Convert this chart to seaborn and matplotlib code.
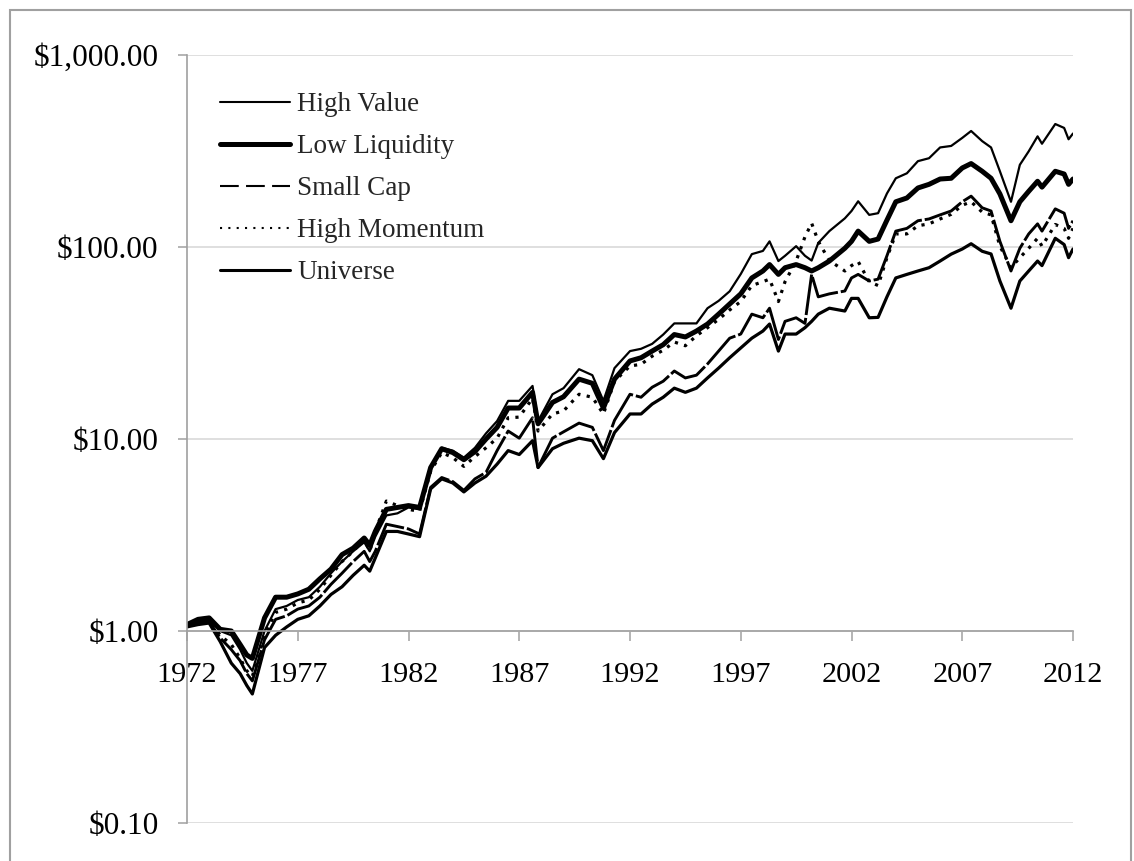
import matplotlib
matplotlib.use("Agg")
import matplotlib.pyplot as plt
from matplotlib.lines import Line2D
from matplotlib.patches import Rectangle
from matplotlib.ticker import FixedLocator, FuncFormatter, NullLocator
import seaborn as sns

# ---------------- data ----------------
years = [1972.0, 1972.5, 1973.0, 1973.5, 1974.0, 1974.4, 1974.7, 1974.95, 1975.5, 1976.0,
         1976.5, 1977.0, 1977.5, 1978.0, 1978.5, 1979.0, 1979.5, 1980.0, 1980.25, 1980.5,
         1981.0, 1981.5, 1982.0, 1982.5, 1983.0, 1983.5, 1984.0, 1984.5, 1985.0, 1985.5,
         1986.0, 1986.5, 1987.0, 1987.6, 1987.85, 1988.5, 1989.0, 1989.7, 1990.3, 1990.8,
         1991.3, 1992.0, 1992.5, 1993.0, 1993.5, 1994.0, 1994.5, 1995.0, 1995.5, 1996.0,
         1996.5, 1997.0, 1997.5, 1998.0, 1998.3, 1998.7, 1999.0, 1999.5, 1999.9, 2000.2,
         2000.5, 2001.0, 2001.7, 2002.0, 2002.3, 2002.8, 2003.2, 2003.6, 2004.0, 2004.5,
         2005.0, 2005.5, 2006.0, 2006.5, 2007.0, 2007.4, 2007.9, 2008.3, 2008.7, 2009.2,
         2009.6, 2010.0, 2010.4, 2010.6, 2011.2, 2011.6, 2011.8, 2012.0]

high_value = [1.08, 1.12, 1.15, 1.0, 0.95, 0.8, 0.68, 0.62, 1.0, 1.3,
              1.35, 1.45, 1.5, 1.7, 2.0, 2.3, 2.6, 2.9, 2.6, 3.1,
              4.0, 4.1, 4.4, 4.3, 7.0, 9.0, 8.7, 8.0, 9.0, 10.7,
              12.4, 15.8, 15.8, 18.9, 12.4, 17.1, 18.4, 23.1, 21.5, 15.8,
              23.4, 28.7, 29.5, 31.3, 35, 40, 40, 40, 48, 52.4,
              58.8, 72.3, 91.8, 95.4, 107, 84.5, 90, 101, 90, 85,
              105, 121, 141, 154, 173, 147, 150, 190, 228, 242,
              280, 290, 330, 336, 370, 402, 356, 330, 248, 172,
              268, 315, 377, 345, 437, 417, 364, 390]

low_liquidity = [1.08, 1.15, 1.17, 1.02, 1.0, 0.85, 0.75, 0.72, 1.17, 1.5,
                 1.5, 1.56, 1.65, 1.87, 2.1, 2.5, 2.7, 3.05, 2.8, 3.3,
                 4.3, 4.4, 4.5, 4.4, 7.1, 8.9, 8.5, 7.8, 8.6, 10.0,
                 11.5, 14.5, 14.5, 17.5, 12.0, 15.5, 16.6, 20.5, 19.5, 14.5,
                 20.5, 25.5, 26.5, 28.7, 31, 35, 34, 36.5, 39.7, 44.7,
                 50.5, 57, 69, 75, 81, 72, 78, 81, 78, 75,
                 78, 84.5, 98.5, 107, 121, 107, 110, 138, 172, 180,
                 203, 212, 226, 228, 258, 272, 248, 228, 189, 137,
                 172, 195, 220, 205, 248, 240, 212, 226]

small_cap = [1.06, 1.1, 1.12, 0.92, 0.8, 0.7, 0.6, 0.55, 0.9, 1.15,
             1.2, 1.3, 1.35, 1.5, 1.75, 2.0, 2.3, 2.6, 2.3, 2.6,
             3.6, 3.5, 3.4, 3.2, 5.6, 6.3, 6.0, 5.4, 6.2, 6.7,
             8.7, 11.0, 10.1, 12.9, 7.1, 10.1, 10.9, 12.1, 11.5, 8.7,
             12.5, 17.1, 16.5, 18.6, 20, 22.6, 20.8, 21.5, 24.6, 28.7,
             33.5, 35.2, 44.7, 42.8, 48, 33, 41, 42.8, 40, 72,
             55, 57, 59, 69, 72, 66.5, 68, 90, 121, 125,
             137, 140, 147, 154, 172, 184, 160, 154, 107, 75,
             98.5, 117, 132, 121, 158, 150, 125, 137]

high_momentum = [1.07, 1.12, 1.15, 0.95, 0.85, 0.72, 0.62, 0.58, 0.95, 1.25,
                 1.3, 1.4, 1.45, 1.65, 1.95, 2.3, 2.6, 3.0, 2.6, 3.3,
                 4.75, 4.5, 4.3, 4.2, 6.8, 8.5, 8.0, 7.2, 8.1, 9.0,
                 10.1, 12.9, 13, 16.3, 11, 13.5, 14, 17.1, 16.5, 13.5,
                 20, 24, 24.5, 27, 29, 32, 30.6, 34.5, 38, 42,
                 47, 52, 63, 66, 68, 52, 66, 84.5, 113, 133,
                 107, 85, 75, 80, 84, 66, 63, 88, 117, 117,
                 129, 132, 140, 148, 165, 172, 152, 147, 101, 78,
                 88, 98.5, 111, 101, 131, 125, 111, 125]

universe = [1.05, 1.08, 1.1, 0.88, 0.68, 0.6, 0.52, 0.47, 0.82, 0.95,
            1.05, 1.15, 1.2, 1.35, 1.55, 1.7, 1.95, 2.2, 2.05, 2.4,
            3.3, 3.3, 3.2, 3.1, 5.5, 6.2, 5.9, 5.3, 5.9, 6.4,
            7.4, 8.7, 8.3, 9.8, 7.1, 8.9, 9.5, 10.1, 9.8, 7.9,
            10.8, 13.5, 13.5, 15.2, 16.5, 18.4, 17.5, 18.4, 20.8, 23.4,
            26.5, 29.8, 33.5, 36.5, 39.7, 28.7, 35.2, 35.2, 38, 41,
            44.7, 48, 46.4, 54, 54, 42.8, 43, 55, 69, 72,
            75, 78, 84.5, 91.8, 97.6, 104, 95, 92, 66.5, 48,
            66.5, 75, 84.5, 80, 111, 103, 88, 97.6]

series_names = ["High Value", "Low Liquidity", "Small Cap", "High Momentum", "Universe"]
x_ticks = [1972, 1977, 1982, 1987, 1992, 1997, 2002, 2007, 2012]
y_ticks = [0.1, 1, 10, 100, 1000]

# ---------------- styling ----------------
sns.set_style("white")
plt.rcParams["font.family"] = ["Liberation Serif", "DejaVu Serif"]

W, H = 1134, 861
fig = plt.figure(figsize=(W / 100, H / 100), dpi=100)
ax = fig.add_axes([187 / W, 1 - 823 / H, (1073 - 187) / W, (823 - 55) / H])

data_values = [high_value, low_liquidity, small_cap, high_momentum, universe]
styles = [
    dict(lw=1.6, ls="-"),
    dict(lw=3.6, ls="-"),
    dict(lw=2.1, ls=(0, (14, 1))),
    dict(lw=2.3, ls=(0, (1, 2))),
    dict(lw=2.3, ls="-"),
]
for vals, st in zip(data_values, styles):
    sns.lineplot(x=years, y=vals, ax=ax, color="black", linewidth=st["lw"],
                 linestyle=st["ls"], estimator=None, sort=False, legend=False)

ax.set_yscale("log")
ax.set_ylim(0.1, 1000)
ax.set_xlim(1972, 2012)

gray = "#A0A0A0"
ax.yaxis.set_major_locator(FixedLocator(y_ticks))
ax.yaxis.set_minor_locator(NullLocator())
ax.yaxis.set_major_formatter(FuncFormatter(lambda v, p: "${:,.2f}".format(v)))
ax.xaxis.set_major_locator(FixedLocator(x_ticks))
ax.xaxis.set_major_formatter(FuncFormatter(lambda v, p: "{:d}".format(int(round(v)))))

ax.grid(axis="y", color="#D9D9D9", lw=1.2)
ax.grid(axis="x", visible=False)
ax.set_axisbelow(True)

for s in ["top", "right"]:
    ax.spines[s].set_visible(False)
ax.spines["left"].set_color(gray)
ax.spines["left"].set_linewidth(1.2)
ax.spines["bottom"].set_color(gray)
ax.spines["bottom"].set_linewidth(1.2)
ax.spines["bottom"].set_position(("data", 1))

ax.tick_params(axis="y", which="major", direction="out", length=6.5, width=1.1,
               color=gray, labelsize=22.5, pad=14, labelcolor="black", left=True)
ax.tick_params(axis="x", which="major", direction="out", length=7, width=1.1,
               color=gray, labelsize=21.7, pad=15, labelcolor="black", bottom=True)
ax.set_xlabel("")
ax.set_ylabel("")

# legend
handles = [
    Line2D([], [], color="black", lw=1.5, ls="-"),
    Line2D([], [], color="black", lw=3.6, ls="-"),
    Line2D([], [], color="black", lw=1.5, ls=(0, (9, 3.5))),
    Line2D([], [], color="black", lw=1.5, ls=(0, (1, 3))),
    Line2D([], [], color="black", lw=2.2, ls="-"),
]
leg = fig.legend(handles, series_names, loc="upper left",
                 bbox_to_anchor=(220 / W, 1 - 92 / H), bbox_transform=fig.transFigure,
                 frameon=False, fontsize=19.5, handlelength=2.58, handletextpad=0.26,
                 labelspacing=0.63, borderpad=0, borderaxespad=0)

# outer border of the chart area
fig.patches.append(Rectangle((10 / W, -0.05), (1131 - 10) / W, 1 - 10 / H + 0.05,
                             transform=fig.transFigure, fill=False, ec=gray, lw=1.5))

fig.savefig("out.png", dpi=100)
